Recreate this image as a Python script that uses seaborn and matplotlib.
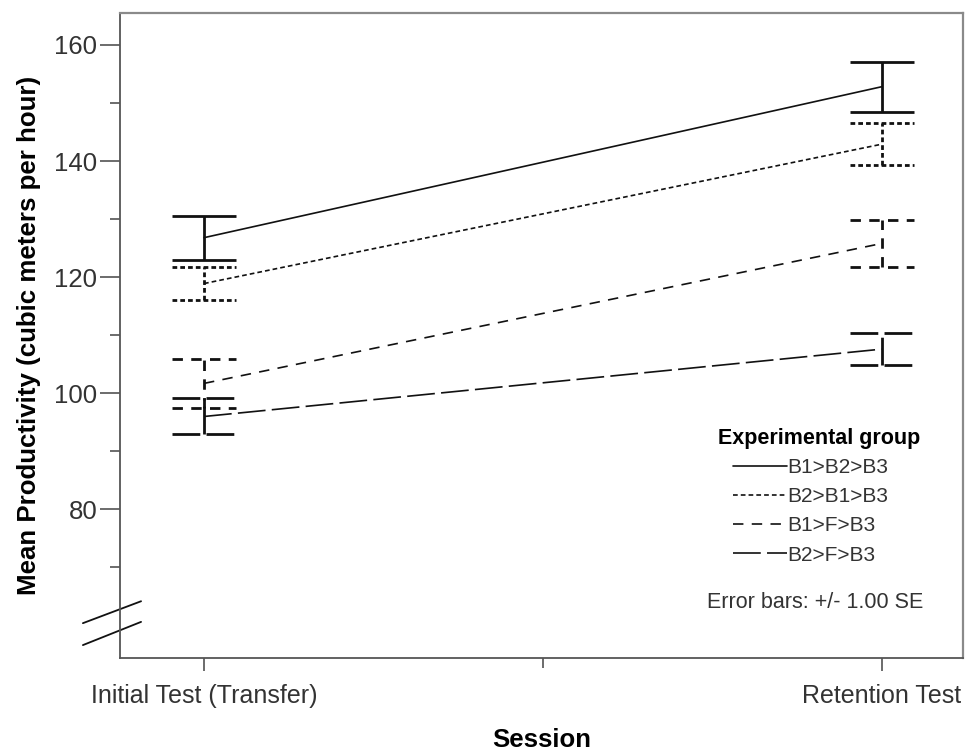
import matplotlib
matplotlib.use("Agg")
import matplotlib.pyplot as plt
from matplotlib.lines import Line2D
import numpy as np
import pandas as pd
import seaborn as sns

# Mean productivity per experimental group and session, with standard errors
sessions = ["Initial Test (Transfer)", "Retention Test"]
groups = ["B1>B2>B3", "B2>B1>B3", "B1>F>B3", "B2>F>B3"]
initial_mean = [126.8, 118.9, 101.7, 96.0]
initial_se = [3.8, 2.9, 4.25, 3.1]
retention_mean = [152.8, 142.9, 125.8, 107.6]
retention_se = [4.3, 3.65, 4.05, 2.8]

major_yticks = [80, 100, 120, 140, 160]
minor_yticks = [70, 90, 110, 130, 150]

sns.set_theme(style="white")
plt.rcParams["font.family"] = ["Liberation Sans", "DejaVu Sans"]
plt.rcParams["lines.scale_dashes"] = False

# line style per group (dash on/off lengths in points)
dash_map = {
    "B1>B2>B3": "",
    "B2>B1>B3": (3.4, 2.2),
    "B1>F>B3": (7.5, 6.0),
    "B2>F>B3": (20.0, 4.5),
}

rows = []
for i, g in enumerate(groups):
    rows.append({"group": g, "pos": 0, "mean": initial_mean[i], "se": initial_se[i]})
    rows.append({"group": g, "pos": 1, "mean": retention_mean[i], "se": retention_se[i]})
df = pd.DataFrame(rows)

fig = plt.figure(figsize=(9.68, 7.52), dpi=100)
ax = fig.add_axes([120 / 968, 1 - 658 / 752, 843 / 968, 645 / 752])

ink = "#111111"
sns.lineplot(data=df, x="pos", y="mean", style="group", style_order=groups,
             dashes=dash_map, color=ink, linewidth=1.2, legend=False,
             markers=False, ax=ax, sort=False, estimator=None)

def ls_for(g):
    d = dash_map[g]
    return "solid" if d == "" else (0, d)

cap_half = 0.047
for g in groups:
    sub = df[df["group"] == g]
    lo = sub["mean"] - sub["se"]
    hi = sub["mean"] + sub["se"]
    ax.vlines(sub["pos"], lo, hi, colors=ink, linewidth=2.0, linestyles=ls_for(g))
    for ylev in (lo, hi):
        ax.hlines(ylev, sub["pos"] - cap_half, sub["pos"] + cap_half,
                  colors=ink, linewidth=2.0, linestyles=ls_for(g))

ax.set_xlim(-0.124, 1.120)
ax.set_ylim(54.4, 165.5)

ax.set_xticks([0, 1])
ax.set_xticklabels(sessions)
ax.set_xticks([0.5], minor=True)
ax.set_yticks(major_yticks)
ax.set_yticks(minor_yticks, minor=True)

tick_col = "#333333"
ax.tick_params(axis="x", which="major", direction="out", length=9.5, width=1.1,
               color="#444444", labelsize=18, labelcolor=tick_col, pad=9, bottom=True)
ax.tick_params(axis="x", which="minor", direction="out", length=7, width=1.1,
               color="#444444", bottom=True)
ax.tick_params(axis="y", which="major", direction="out", length=14.4, width=1.1,
               color="#444444", labelsize=18.5, labelcolor=tick_col, pad=2, left=True)
ax.tick_params(axis="y", which="minor", direction="out", length=7.2, width=1.1,
               color="#444444", left=True)

for side in ("left", "bottom"):
    ax.spines[side].set_color("#555555")
    ax.spines[side].set_linewidth(1.3)
for side in ("top", "right"):
    ax.spines[side].set_color("#8a8a8a")
    ax.spines[side].set_linewidth(1.6)

ax.set_xlabel("Session", fontsize=18.5, fontweight="bold", color="black")
ax.set_ylabel("Mean Productivity (cubic meters per hour)", fontsize=18.6,
              fontweight="bold", color="black")
ax.xaxis.set_label_coords(0.5, -0.108)
ax.yaxis.set_label_coords(-0.094, 0.5)

# axis break marks on the y axis
for y0, y1 in ((0.054, 0.088), (0.020, 0.056)):
    ax.plot([-0.044, 0.025], [y0, y1], transform=ax.transAxes, color=ink,
            linewidth=1.3, clip_on=False)

# legend
handles = [Line2D([0], [0], color=ink, linewidth=1.2, linestyle=ls_for(g)) for g in groups]
fig.text(718 / 968, 1 - 438 / 752, "Experimental group", fontsize=15.5,
         fontweight="bold", color="black", ha="left", va="center")
leg = ax.legend(handles, groups, loc="upper left",
                bbox_to_anchor=(733 / 968, 1 - 458 / 752), bbox_transform=fig.transFigure,
                frameon=False, fontsize=15, handlelength=2.6, handletextpad=0.0,
                labelspacing=0.49, borderpad=0, borderaxespad=0)
for t in leg.get_texts():
    t.set_color("#333333")
fig.text(707 / 968, 1 - 603 / 752, "Error bars: +/- 1.00 SE", fontsize=15.5,
         color="#333333", ha="left", va="center")

fig.savefig("out.png", dpi=100, facecolor="white")
